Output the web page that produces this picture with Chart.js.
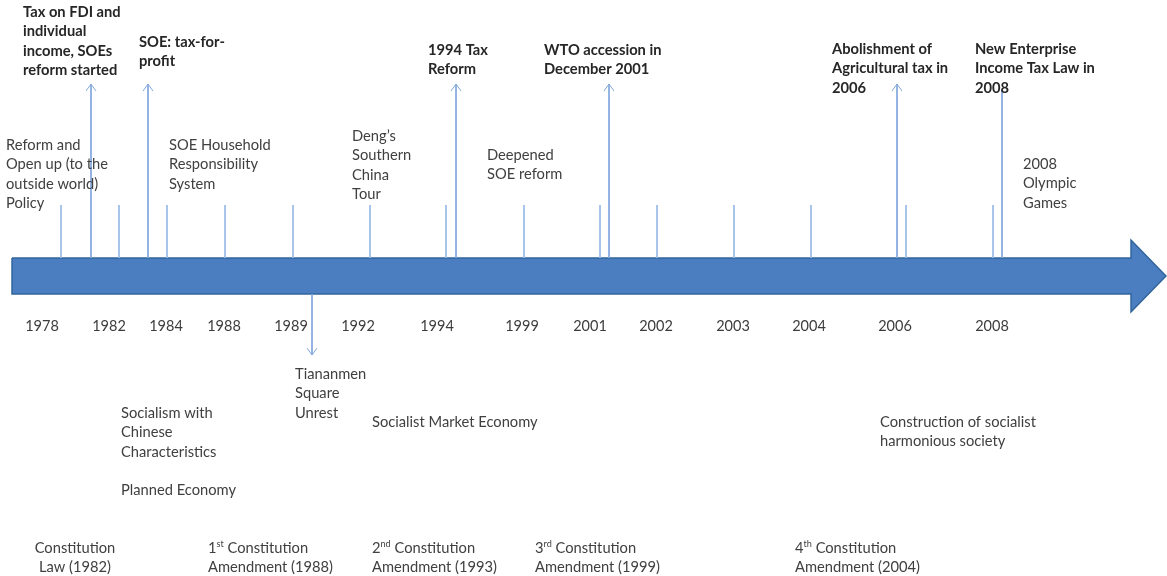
<!DOCTYPE html>
<html>
<head>
  <meta charset="utf-8">
  <title>China reform timeline</title>
  <script src="https://cdn.jsdelivr.net/npm/chart.js"></script>
  <style>
    html, body { margin: 0; padding: 0; background: #fff; }
    #wrap { width: 1167px; height: 576px; position: relative; }
  </style>
</head>
<body>
<div id="wrap"><canvas id="timeline"></canvas></div>
<script>
// year labels under the arrow
const years = ['1978', '1982', '1984', '1988', '1989', '1992', '1994', '1999', '2001', '2002', '2003', '2004', '2006', '2008'];
const yearAt = [42, 109, 166, 224, 291, 358, 437, 522, 590, 656, 733, 809, 895, 992];

// short tick marks standing on the arrow
const tickAt = [61, 119, 167, 225, 293, 370, 446, 524, 600, 657, 734, 811, 906, 993];

// long arrows up to the bold (tax) events, and the one arrow pointing down
const upArrowAt = [91, 148, 456, 609, 897, 1002];
const upArrowTop = [84, 84, 84, 84, 84, 90];
const upArrowHead = [true, true, true, true, true, false];
const downArrowAt = [312];

// the big timeline arrow outline
const arrowX = [12, 1131, 1131, 1166, 1131, 1131, 12];
const arrowY = [258, 258, 240, 276, 312, 294, 294];

// bold labels (tax events, top row)
const taxEvents = [
  ['Tax on FDI and', 'individual', 'income, SOEs', 'reform started'],
  ['SOE: tax-for-', 'profit'],
  ['1994 Tax', 'Reform'],
  ['WTO accession in', 'December 2001'],
  ['Abolishment of', 'Agricultural tax in', '2006'],
  ['New Enterprise', 'Income Tax Law in', '2008']
];
const taxEventAt = [[23, 12], [139, 42], [428, 50], [544, 50], [832, 49], [975, 49]];

// plain labels
const notes = [
  ['Reform and', 'Open up (to the', 'outside world)', 'Policy'],
  ['SOE Household', 'Responsibility', 'System'],
  ['Deng\u2019s', 'Southern', 'China', 'Tour'],
  ['Deepened', 'SOE reform'],
  ['2008', 'Olympic', 'Games'],
  ['Tiananmen', 'Square', 'Unrest'],
  ['Socialism with', 'Chinese', 'Characteristics'],
  ['Planned Economy'],
  ['Socialist Market Economy'],
  ['Construction of socialist', 'harmonious society']
];
const noteAt = [[6, 145], [169, 145], [352, 136], [487, 155], [1023, 164], [295, 374], [121, 413], [121, 490], [372, 422], [880, 422]];

// constitution row (^..^ marks superscript)
const constitution = [
  ['Constitution', 'Law (1982)'],
  ['1^st^ Constitution', 'Amendment (1988)'],
  ['2^nd^ Constitution', 'Amendment (1993)'],
  ['3^rd^ Constitution', 'Amendment (1999)'],
  ['4^th^ Constitution', 'Amendment (2004)']
];
const constitutionAt = [[75, 548], [208, 548], [372, 548], [535, 548], [795, 548]];
const constitutionAlign = ['center', 'left', 'left', 'left', 'left'];

const FONT = 'Lato, "Open Sans", sans-serif';
const LINE_H = 19.5;
const SIZE = 14.7;

function segments(xs, y0, y1) {
  let pts = [];
  xs.forEach((x, i) => {
    let top = Array.isArray(y0) ? y0[i] : y0;
    pts.push({x: x, y: top}, {x: x, y: y1}, {x: x, y: null});
  });
  return pts;
}

function heads(xs, tips, show, dir) {
  let pts = [];
  xs.forEach((x, i) => {
    if (show && !show[i]) return;
    let tip = Array.isArray(tips) ? tips[i] : tips;
    pts.push({x: x - 5, y: tip - 7 * dir}, {x: x, y: tip}, {x: x + 5, y: tip - 7 * dir}, {x: x, y: null});
  });
  return pts;
}

const textPlugin = {
  id: 'timelineText',
  afterDatasetsDraw(chart) {
    const ctx = chart.ctx;
    const sx = chart.scales.x, sy = chart.scales.y;
    ctx.save();
    ctx.textBaseline = 'middle';

    function drawLine(str, x, y, size, weight, color, align) {
      const parts = str.split('^');
      ctx.fillStyle = color;
      let total = 0;
      parts.forEach((p, i) => {
        ctx.font = weight + ' ' + (i % 2 ? size * 0.62 : size) + 'px ' + FONT;
        total += ctx.measureText(p).width;
      });
      let cx = align === 'center' ? x - total / 2 : x;
      parts.forEach((p, i) => {
        const sup = i % 2 === 1;
        ctx.font = weight + ' ' + (sup ? size * 0.62 : size) + 'px ' + FONT;
        ctx.textAlign = 'left';
        ctx.fillText(p, cx, sup ? y - size * 0.3 : y);
        cx += ctx.measureText(p).width;
      });
    }

    function block(lines, pos, size, weight, color, align) {
      lines.forEach((l, i) => {
        drawLine(l, sx.getPixelForValue(pos[0]), sy.getPixelForValue(pos[1] + i * LINE_H), size, weight, color, align || 'left');
      });
    }

    years.forEach((y, i) => {
      drawLine(y, sx.getPixelForValue(yearAt[i]), sy.getPixelForValue(326), 14.5, 'normal', '#3c3c3c', 'center');
    });
    taxEvents.forEach((t, i) => block(t, taxEventAt[i], SIZE, 'bold', '#262626'));
    notes.forEach((t, i) => block(t, noteAt[i], SIZE, 'normal', '#404040'));
    constitution.forEach((t, i) => block(t, constitutionAt[i], SIZE, 'normal', '#404040', constitutionAlign[i]));
    ctx.restore();
  }
};

new Chart(document.getElementById('timeline'), {
  type: 'line',
  data: {
    datasets: [
      {
        label: 'ticks',
        data: segments(tickAt, 205, 258),
        borderColor: '#9cbde6',
        borderWidth: 1,
        pointRadius: 0,
        spanGaps: false
      },
      {
        label: 'up arrows',
        data: segments(upArrowAt, upArrowTop, 258),
        borderColor: '#85aade',
        borderWidth: 1,
        pointRadius: 0,
        spanGaps: false
      },
      {
        label: 'up heads',
        data: heads(upArrowAt, upArrowTop, upArrowHead, -1),
        borderColor: '#85aade',
        borderWidth: 1,
        pointRadius: 0,
        spanGaps: false
      },
      {
        label: 'down arrow',
        data: segments(downArrowAt, 294, 355).concat(heads(downArrowAt, 355, null, 1)),
        borderColor: '#85aade',
        borderWidth: 1,
        pointRadius: 0,
        spanGaps: false
      },
      {
        label: 'timeline',
        data: arrowX.map((x, i) => ({x: x, y: arrowY[i]})).concat([{x: arrowX[0], y: arrowY[0]}]),
        borderColor: '#32659c',
        backgroundColor: '#4a7ec0',
        borderWidth: 1.5,
        pointRadius: 0,
        fill: 'shape'
      }
    ]
  },
  options: {
    responsive: true,
    maintainAspectRatio: false,
    animation: false,
    layout: { padding: 0 },
    elements: { line: { tension: 0 } },
    plugins: {
      legend: { display: false },
      tooltip: { enabled: false }
    },
    scales: {
      x: { type: 'linear', min: 0, max: 1167, display: false },
      y: { type: 'linear', min: 0, max: 576, reverse: true, display: false }
    }
  },
  plugins: [textPlugin]
});
</script>
</body>
</html>
